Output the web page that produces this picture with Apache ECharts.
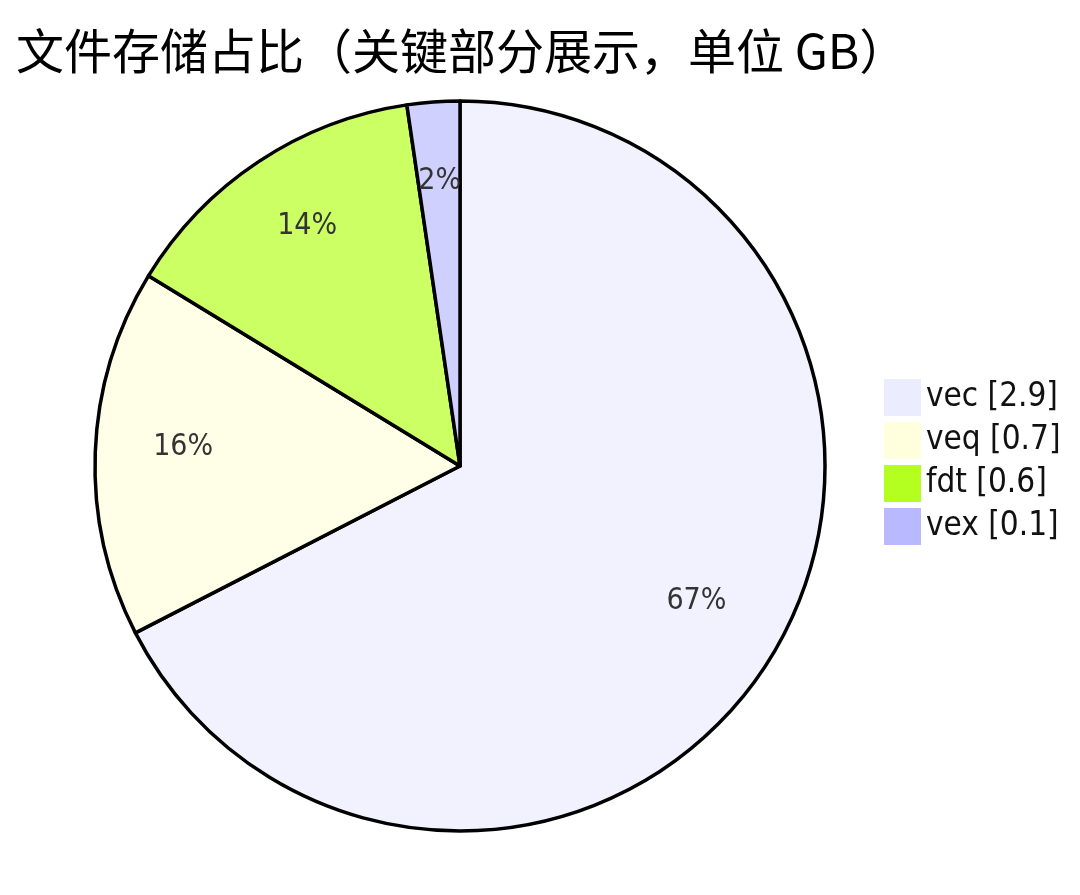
<!DOCTYPE html>
<html>
<head>
<meta charset="utf-8">
<script src="https://cdn.jsdelivr.net/npm/echarts@6/dist/echarts.min.js"></script>
<style>
  html, body { margin: 0; padding: 0; background: #fff; }
  #main { width: 1080px; height: 895px; }
</style>
</head>
<body>
<div id="main"></div>
<script>
var titleText = '文件存储占比（关键部分展示，单位 GB）';
var names = ['vec', 'veq', 'fdt', 'vex'];
var values = [2.9, 0.7, 0.6, 0.1];
// legend swatch colours and the 0.7-opacity slice colours
var legendColors = ['#ececff', '#ffffde', '#b5ff20', '#b9b9ff'];
var sliceColors = ['#f2f2ff', '#ffffe8', '#cbff63', '#d0d0ff'];

var total = values.reduce(function (a, b) { return a + b; }, 0);

var myChart = echarts.init(document.getElementById('main'));

var pieData = names.map(function (n, i) {
    return { name: n, value: values[i], itemStyle: { color: sliceColors[i] } };
});
var labelData = names.map(function (n, i) {
    return { name: n, value: values[i] };
});

var option = {
    animation: false,
    title: {
        text: titleText,
        left: 11,
        top: 22,
        textStyle: {
            fontFamily: 'Noto Sans CJK SC',
            fontSize: 48,
            fontWeight: 'normal',
            color: '#000'
        }
    },
    legend: {
        orient: 'vertical',
        left: 879,
        top: 374,
        icon: 'rect',
        itemWidth: 37,
        itemHeight: 37,
        itemGap: 6,
        selectedMode: false,
        textStyle: {
            fontFamily: 'DejaVu Sans Condensed',
            fontSize: 33,
            color: '#111'
        },
        formatter: function (name) {
            var i = names.indexOf(name);
            return name + ' [' + values[i] + ']';
        },
        data: names.map(function (n, i) {
            return { name: n, itemStyle: { color: legendColors[i], borderWidth: 0 } };
        })
    },
    series: [
        {
            type: 'pie',
            center: [460, 466],
            radius: [0, 365],
            startAngle: 90,
            clockwise: true,
            avoidLabelOverlap: false,
            silent: true,
            itemStyle: { borderColor: '#000', borderWidth: 3.5 },
            label: { show: false },
            labelLine: { show: false },
            data: pieData
        },
        {
            type: 'pie',
            center: [460, 466],
            radius: [183, 365],
            startAngle: 90,
            clockwise: true,
            avoidLabelOverlap: false,
            silent: true,
            legendHoverLink: false,
            itemStyle: { color: 'rgba(0,0,0,0)', borderWidth: 0 },
            label: {
                show: true,
                position: 'inside',
                fontFamily: 'DejaVu Sans Condensed',
                fontSize: 30,
                color: '#333',
                offset: [0, -9],
                formatter: function (p) {
                    return Math.round(p.value / total * 100) + '%';
                }
            },
            labelLine: { show: false },
            data: labelData
        }
    ]
};
myChart.setOption(option);
</script>
</body>
</html>
